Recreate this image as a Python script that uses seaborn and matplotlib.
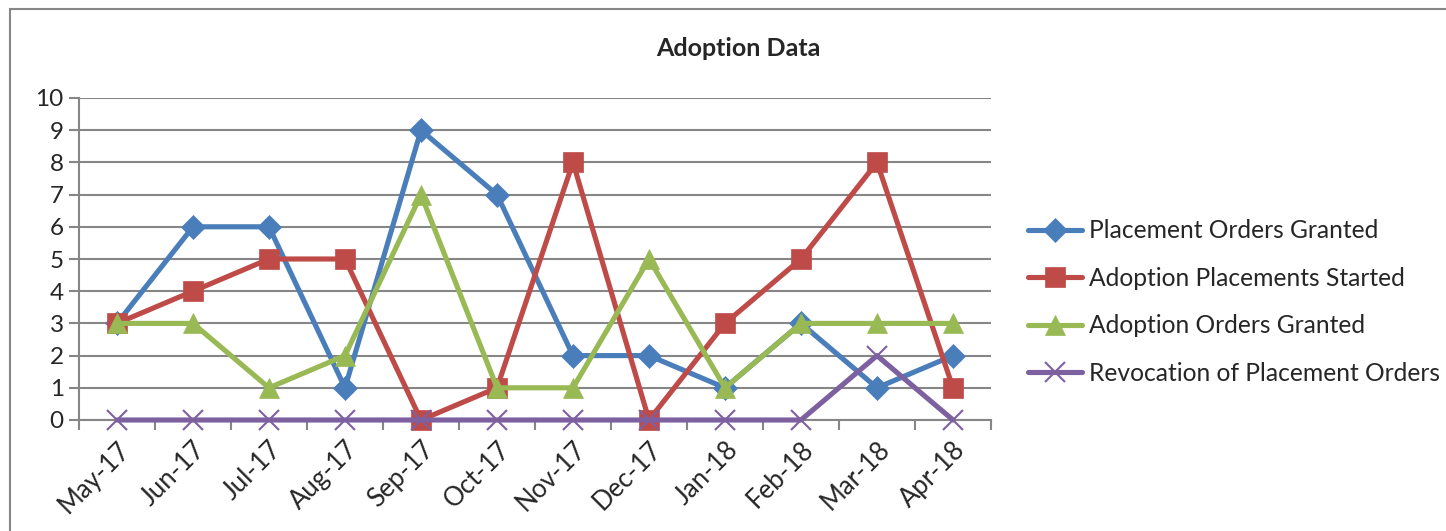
import matplotlib
matplotlib.use("Agg")
import matplotlib.pyplot as plt
from matplotlib.patches import Rectangle
from matplotlib.ticker import FixedLocator, NullFormatter
import seaborn as sns
import pandas as pd

months = ["May-17", "Jun-17", "Jul-17", "Aug-17", "Sep-17", "Oct-17",
          "Nov-17", "Dec-17", "Jan-18", "Feb-18", "Mar-18", "Apr-18"]
placement_orders_granted = [3, 6, 6, 1, 9, 7, 2, 2, 1, 3, 1, 2]
adoption_placements_started = [3, 4, 5, 5, 0, 1, 8, 0, 3, 5, 8, 1]
adoption_orders_granted = [3, 3, 1, 2, 7, 1, 1, 5, 1, 3, 3, 3]
revocation_of_placement_orders = [0, 0, 0, 0, 0, 0, 0, 0, 0, 0, 2, 0]

series_names = ["Placement Orders Granted", "Adoption Placements Started",
                "Adoption Orders Granted", "Revocation of Placement Orders"]
series_values = [placement_orders_granted, adoption_placements_started,
                 adoption_orders_granted, revocation_of_placement_orders]
colors = ["#4A7EBB", "#BE4B48", "#98B954", "#7D60A0"]
markers = ["D", "s", "^", "x"]
msizes = [12.5, 14, 15, 15]

sns.set_style("white")
plt.rcParams["font.family"] = ["Lato", "DejaVu Sans"]

W, H = 1446, 531
fig = plt.figure(figsize=(W / 100, H / 100), dpi=100)
ax = fig.add_axes([79 / W, 1 - 420 / H, (991 - 79) / W, (420 - 98) / H])

# outer chart frame
fig.patches.append(Rectangle((10 / W, -0.05), 1.2, 1 - 9 / H + 0.05,
                             transform=fig.transFigure, fill=False,
                             edgecolor="#868686", linewidth=1.5, zorder=0))

x = list(range(len(months)))
for i, (name, vals) in enumerate(zip(series_names, series_values)):
    df = pd.DataFrame({"x": x, "y": vals})
    sns.lineplot(data=df, x="x", y="y", ax=ax, color=colors[i], linewidth=3.7,
                 marker=markers[i], markersize=msizes[i],
                 markeredgecolor=colors[i],
                 markeredgewidth=1.5 if markers[i] == "x" else 0.5,
                 label=name, zorder=3 + i, clip_on=False)

ax.set_xlim(-0.5, len(months) - 0.5)
ax.set_ylim(0, 10)
ax.set_yticks(range(0, 11))
ax.yaxis.grid(True, color="#868686", linewidth=1.5)
ax.set_axisbelow(True)

ax.xaxis.set_major_locator(FixedLocator([v - 0.5 for v in range(len(months) + 1)]))
ax.xaxis.set_major_formatter(NullFormatter())
ax.xaxis.set_minor_locator(FixedLocator(x))
ax.set_xticklabels(months, minor=True, rotation=45, ha="right",
                   rotation_mode="anchor", fontsize=18.5)
ax.tick_params(axis="x", which="major", direction="out", length=7,
               width=1.5, color="#868686", bottom=True)
ax.tick_params(axis="x", which="minor", length=0, pad=12)
ax.tick_params(axis="y", direction="out", length=7, width=1.5,
               color="#868686", labelsize=17.5, left=True, pad=4)

for side in ["top", "right"]:
    ax.spines[side].set_visible(False)
for side in ["left", "bottom"]:
    ax.spines[side].set_color("#868686")
    ax.spines[side].set_linewidth(1.5)

ax.set_xlabel("")
ax.set_ylabel("")

fig.text(738 / W, 1 - 48 / H, "Adoption Data", ha="center", va="center",
         fontsize=18, fontweight="bold")

leg = ax.legend(loc="center left", bbox_to_anchor=(1028 / W, 1 - 302 / H),
                bbox_transform=fig.transFigure, frameon=False, fontsize=17.7,
                handlelength=2.2, handletextpad=0.3, labelspacing=1.0,
                borderaxespad=0, borderpad=0)

fig.savefig("out.png", dpi=100)
